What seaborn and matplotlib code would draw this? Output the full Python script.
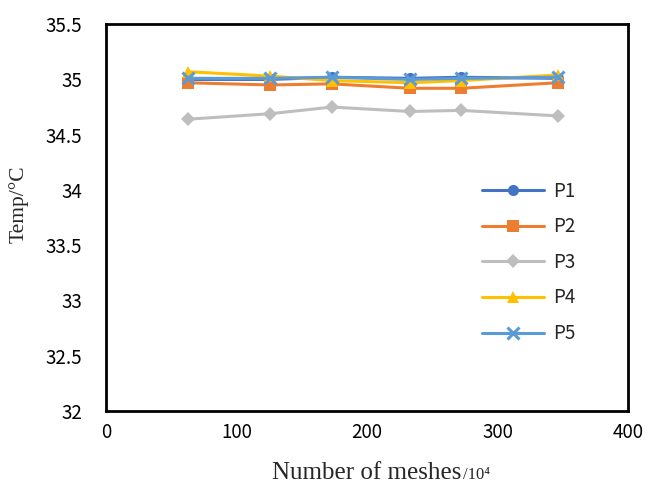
import seaborn as sns
import matplotlib.pyplot as plt
import pandas as pd
import numpy as np

meshes = [63, 126, 173, 233, 272, 346]
p1 = [35.00, 35.00, 35.02, 35.01, 35.02, 35.01]
p2 = [34.97, 34.95, 34.96, 34.92, 34.92, 34.97]
p3 = [34.64, 34.69, 34.75, 34.71, 34.72, 34.67]
p4 = [35.07, 35.03, 34.99, 34.97, 34.99, 35.04]
p5 = [35.01, 35.01, 35.02, 35.00, 35.01, 35.02]
series = ['P1', 'P2', 'P3', 'P4', 'P5']

df = pd.DataFrame({'P1': p1, 'P2': p2, 'P3': p3, 'P4': p4, 'P5': p5}, index=meshes)

colors = {'P1': '#4472C4', 'P2': '#ED7D31', 'P3': '#BEBEBE',
          'P4': '#FFC000', 'P5': '#5B9BD5'}
markers = {'P1': 'o', 'P2': 's', 'P3': 'D', 'P4': '^', 'P5': 'x'}

sns.set_style('white')
plt.rcParams['font.family'] = ['Noto Sans CJK SC', 'DejaVu Sans']

fig = plt.figure(figsize=(6.49, 4.84), dpi=100)
ax = fig.add_axes([0.163, 0.151, 0.805, 0.799])

for name in series:
    mk = markers[name]
    sns.lineplot(x=df.index, y=df[name], ax=ax, color=colors[name], label=name,
                 marker=mk, linewidth=2.2,
                 markersize=7 if mk == 'D' else 8,
                 markeredgewidth=2.2 if mk == 'x' else 0,
                 markeredgecolor=colors[name])

ax.set_xlim(0, 400)
ax.set_ylim(32, 35.5)
ax.set_xticks(np.arange(0, 401, 100))
ax.set_yticks(np.arange(32, 35.51, 0.5))
ax.set_yticklabels(['32', '32.5', '33', '33.5', '34', '34.5', '35', '35.5'])
ax.tick_params(direction='in', length=4, width=1.5, labelsize=13.5, colors='black')
ax.tick_params(axis='y', pad=17)
ax.tick_params(axis='x', pad=8)
for s in ax.spines.values():
    s.set_color('black')
    s.set_linewidth(2)

ax.set_xlabel('')
ax.set_ylabel('')
fig.text(0.028, 0.579, 'Temp/°C', family='Liberation Serif', fontsize=15.5,
         rotation=90, ha='center', va='center')
fig.text(0.711, 0.01, 'Number of meshes', family='Liberation Serif',
         fontsize=18, ha='right', va='baseline')
fig.text(0.713, 0.01, '/10⁴', family='Liberation Serif',
         fontsize=12, ha='left', va='baseline')

ax.legend(frameon=False, loc='center left', bbox_to_anchor=(0.728, 0.458),
          bbox_transform=fig.transFigure, fontsize=13.5, handlelength=3.3,
          labelspacing=0.78, handletextpad=0.5, borderpad=0)

fig.savefig('out.png', dpi=100)
